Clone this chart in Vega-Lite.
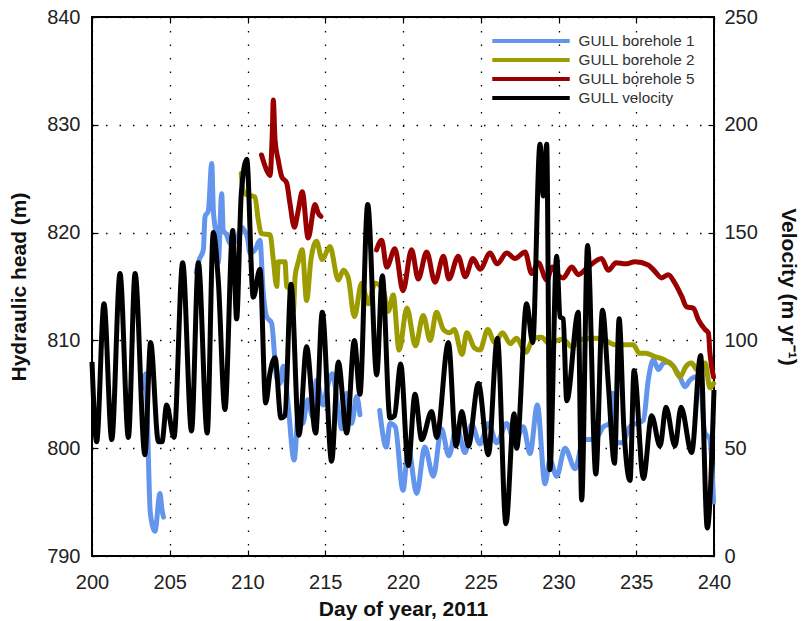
{
  "$schema": "https://vega.github.io/schema/vega-lite/v6.json",
  "width": 622,
  "height": 539,
  "autosize": {"type": "none"},
  "padding": {"left": 92, "top": 17, "right": 90, "bottom": 65},
  "background": "white",
  "config": {
    "font": "Liberation Sans",
    "view": {"stroke": "#000", "strokeWidth": 2},
    "axis": {
      "domain": false,
      "labelFont": "Liberation Sans",
      "labelFontSize": 20,
      "labelColor": "#222",
      "labelFlush": false,
      "labelOverlap": false,
      "tickColor": "#000",
      "tickWidth": 1.2,
      "tickSize": -6,
      "labelPadding": 16,
      "titleFont": "Liberation Sans",
      "titleFontWeight": "bold",
      "titleFontSize": 21,
      "titleColor": "#111",
      "gridColor": "#000",
      "gridWidth": 1.3,
      "gridDash": [1.5, 12],
      "gridOpacity": 1
    },
    "legend": {
      "labelFont": "Liberation Sans",
      "labelFontSize": 15.3,
      "labelColor": "#333"
    }
  },
  "datasets": {
    "heads": [
      {"s": "GULL borehole 1", "g": 1, "d": 203.3, "h": 805.6},
      {"s": "GULL borehole 1", "g": 1, "d": 203.45, "h": 806.9},
      {"s": "GULL borehole 1", "g": 1, "d": 203.55, "h": 803.2},
      {"s": "GULL borehole 1", "g": 1, "d": 203.75, "h": 794.0},
      {"s": "GULL borehole 1", "g": 1, "d": 204.05, "h": 792.3},
      {"s": "GULL borehole 1", "g": 1, "d": 204.37, "h": 795.8},
      {"s": "GULL borehole 1", "g": 1, "d": 204.5, "h": 794.3},
      {"s": "GULL borehole 1", "g": 1, "d": 204.6, "h": 793.6},
      {"s": "GULL borehole 1", "g": 2, "d": 206.7, "h": 816.3},
      {"s": "GULL borehole 1", "g": 2, "d": 206.9, "h": 817.5},
      {"s": "GULL borehole 1", "g": 2, "d": 207.16, "h": 818.4},
      {"s": "GULL borehole 1", "g": 2, "d": 207.27, "h": 821.5},
      {"s": "GULL borehole 1", "g": 2, "d": 207.48, "h": 822.0},
      {"s": "GULL borehole 1", "g": 2, "d": 207.7, "h": 826.4},
      {"s": "GULL borehole 1", "g": 2, "d": 207.8, "h": 822.2},
      {"s": "GULL borehole 1", "g": 2, "d": 207.97, "h": 819.9},
      {"s": "GULL borehole 1", "g": 2, "d": 208.12, "h": 817.2},
      {"s": "GULL borehole 1", "g": 2, "d": 208.34, "h": 823.6},
      {"s": "GULL borehole 1", "g": 2, "d": 208.44, "h": 820.2},
      {"s": "GULL borehole 1", "g": 2, "d": 208.66, "h": 819.8},
      {"s": "GULL borehole 1", "g": 2, "d": 208.87, "h": 819.0},
      {"s": "GULL borehole 1", "g": 2, "d": 209.3, "h": 819.3},
      {"s": "GULL borehole 1", "g": 2, "d": 209.6, "h": 820.5},
      {"s": "GULL borehole 1", "g": 2, "d": 209.8, "h": 820.2},
      {"s": "GULL borehole 1", "g": 2, "d": 210.0, "h": 819.5},
      {"s": "GULL borehole 1", "g": 2, "d": 210.16, "h": 818.1},
      {"s": "GULL borehole 1", "g": 2, "d": 210.48, "h": 818.4},
      {"s": "GULL borehole 1", "g": 2, "d": 210.8, "h": 819.3},
      {"s": "GULL borehole 1", "g": 2, "d": 211.0, "h": 814.7},
      {"s": "GULL borehole 1", "g": 2, "d": 211.23, "h": 812.2},
      {"s": "GULL borehole 1", "g": 2, "d": 211.55, "h": 811.6},
      {"s": "GULL borehole 1", "g": 2, "d": 211.87, "h": 806.6},
      {"s": "GULL borehole 1", "g": 2, "d": 212.08, "h": 806.0},
      {"s": "GULL borehole 1", "g": 2, "d": 212.3, "h": 807.6},
      {"s": "GULL borehole 1", "g": 2, "d": 212.6, "h": 804.2},
      {"s": "GULL borehole 1", "g": 2, "d": 213.0, "h": 798.9},
      {"s": "GULL borehole 1", "g": 2, "d": 213.3, "h": 803.8},
      {"s": "GULL borehole 1", "g": 2, "d": 213.55, "h": 802.3},
      {"s": "GULL borehole 1", "g": 2, "d": 213.87, "h": 804.5},
      {"s": "GULL borehole 1", "g": 2, "d": 214.2, "h": 802.9},
      {"s": "GULL borehole 1", "g": 2, "d": 214.44, "h": 806.3},
      {"s": "GULL borehole 1", "g": 2, "d": 214.86, "h": 804.0},
      {"s": "GULL borehole 1", "g": 2, "d": 215.08, "h": 805.4},
      {"s": "GULL borehole 1", "g": 2, "d": 215.46, "h": 806.9},
      {"s": "GULL borehole 1", "g": 2, "d": 215.84, "h": 803.5},
      {"s": "GULL borehole 1", "g": 2, "d": 216.05, "h": 801.8},
      {"s": "GULL borehole 1", "g": 2, "d": 216.38, "h": 805.1},
      {"s": "GULL borehole 1", "g": 2, "d": 216.7, "h": 802.3},
      {"s": "GULL borehole 1", "g": 2, "d": 217.02, "h": 804.8},
      {"s": "GULL borehole 1", "g": 2, "d": 217.23, "h": 803.1},
      {"s": "GULL borehole 1", "g": 3, "d": 218.5, "h": 803.5},
      {"s": "GULL borehole 1", "g": 3, "d": 218.93, "h": 800.1},
      {"s": "GULL borehole 1", "g": 3, "d": 219.16, "h": 802.3},
      {"s": "GULL borehole 1", "g": 3, "d": 219.5, "h": 802.0},
      {"s": "GULL borehole 1", "g": 3, "d": 220.0, "h": 796.1},
      {"s": "GULL borehole 1", "g": 3, "d": 220.34, "h": 800.0},
      {"s": "GULL borehole 1", "g": 3, "d": 220.88, "h": 795.8},
      {"s": "GULL borehole 1", "g": 3, "d": 221.4, "h": 800.1},
      {"s": "GULL borehole 1", "g": 3, "d": 221.95, "h": 797.4},
      {"s": "GULL borehole 1", "g": 3, "d": 222.47, "h": 801.8},
      {"s": "GULL borehole 1", "g": 3, "d": 222.95, "h": 799.3},
      {"s": "GULL borehole 1", "g": 3, "d": 223.45, "h": 802.0},
      {"s": "GULL borehole 1", "g": 3, "d": 223.99, "h": 799.6},
      {"s": "GULL borehole 1", "g": 3, "d": 224.41, "h": 802.2},
      {"s": "GULL borehole 1", "g": 3, "d": 224.95, "h": 800.4},
      {"s": "GULL borehole 1", "g": 3, "d": 225.49, "h": 802.3},
      {"s": "GULL borehole 1", "g": 3, "d": 226.03, "h": 800.5},
      {"s": "GULL borehole 1", "g": 3, "d": 226.67, "h": 802.3},
      {"s": "GULL borehole 1", "g": 3, "d": 227.2, "h": 800.5},
      {"s": "GULL borehole 1", "g": 3, "d": 227.74, "h": 802.0},
      {"s": "GULL borehole 1", "g": 3, "d": 228.17, "h": 799.5},
      {"s": "GULL borehole 1", "g": 3, "d": 228.64, "h": 804.0},
      {"s": "GULL borehole 1", "g": 3, "d": 229.13, "h": 796.7},
      {"s": "GULL borehole 1", "g": 3, "d": 229.45, "h": 798.9},
      {"s": "GULL borehole 1", "g": 3, "d": 229.88, "h": 797.4},
      {"s": "GULL borehole 1", "g": 3, "d": 230.42, "h": 800.0},
      {"s": "GULL borehole 1", "g": 3, "d": 231.07, "h": 798.1},
      {"s": "GULL borehole 1", "g": 3, "d": 231.6, "h": 800.8},
      {"s": "GULL borehole 1", "g": 3, "d": 232.35, "h": 800.8},
      {"s": "GULL borehole 1", "g": 3, "d": 232.89, "h": 802.0},
      {"s": "GULL borehole 1", "g": 3, "d": 233.3, "h": 802.3},
      {"s": "GULL borehole 1", "g": 3, "d": 233.5, "h": 805.1},
      {"s": "GULL borehole 1", "g": 3, "d": 233.7, "h": 800.5},
      {"s": "GULL borehole 1", "g": 3, "d": 234.1, "h": 800.5},
      {"s": "GULL borehole 1", "g": 3, "d": 234.6, "h": 802.0},
      {"s": "GULL borehole 1", "g": 3, "d": 235.46, "h": 802.6},
      {"s": "GULL borehole 1", "g": 3, "d": 235.77, "h": 806.3},
      {"s": "GULL borehole 1", "g": 3, "d": 236.1, "h": 808.2},
      {"s": "GULL borehole 1", "g": 3, "d": 236.42, "h": 807.3},
      {"s": "GULL borehole 1", "g": 3, "d": 236.74, "h": 807.9},
      {"s": "GULL borehole 1", "g": 3, "d": 237.06, "h": 808.0},
      {"s": "GULL borehole 1", "g": 3, "d": 237.4, "h": 807.6},
      {"s": "GULL borehole 1", "g": 3, "d": 237.81, "h": 806.6},
      {"s": "GULL borehole 1", "g": 3, "d": 238.13, "h": 805.7},
      {"s": "GULL borehole 1", "g": 3, "d": 238.45, "h": 806.3},
      {"s": "GULL borehole 1", "g": 3, "d": 238.78, "h": 806.6},
      {"s": "GULL borehole 1", "g": 3, "d": 239.1, "h": 806.3},
      {"s": "GULL borehole 1", "g": 3, "d": 239.4, "h": 801.5},
      {"s": "GULL borehole 1", "g": 3, "d": 239.74, "h": 800.8},
      {"s": "GULL borehole 1", "g": 3, "d": 239.97, "h": 795.0},

      {"s": "GULL borehole 2", "g": 1, "d": 209.6, "h": 825.5},
      {"s": "GULL borehole 2", "g": 1, "d": 209.7, "h": 824.0},
      {"s": "GULL borehole 2", "g": 1, "d": 209.85, "h": 823.6},
      {"s": "GULL borehole 2", "g": 1, "d": 210.48, "h": 823.3},
      {"s": "GULL borehole 2", "g": 1, "d": 210.69, "h": 821.2},
      {"s": "GULL borehole 2", "g": 1, "d": 210.9, "h": 819.9},
      {"s": "GULL borehole 2", "g": 1, "d": 211.45, "h": 819.8},
      {"s": "GULL borehole 2", "g": 1, "d": 211.66, "h": 817.5},
      {"s": "GULL borehole 2", "g": 1, "d": 211.88, "h": 815.0},
      {"s": "GULL borehole 2", "g": 1, "d": 211.98, "h": 817.3},
      {"s": "GULL borehole 2", "g": 1, "d": 212.41, "h": 817.3},
      {"s": "GULL borehole 2", "g": 1, "d": 212.52, "h": 815.0},
      {"s": "GULL borehole 2", "g": 1, "d": 212.7, "h": 814.8},
      {"s": "GULL borehole 2", "g": 1, "d": 212.95, "h": 812.7},
      {"s": "GULL borehole 2", "g": 1, "d": 213.06, "h": 815.9},
      {"s": "GULL borehole 2", "g": 1, "d": 213.27, "h": 817.3},
      {"s": "GULL borehole 2", "g": 1, "d": 213.52, "h": 818.4},
      {"s": "GULL borehole 2", "g": 1, "d": 213.8, "h": 813.7},
      {"s": "GULL borehole 2", "g": 1, "d": 214.08, "h": 817.5},
      {"s": "GULL borehole 2", "g": 1, "d": 214.44, "h": 819.2},
      {"s": "GULL borehole 2", "g": 1, "d": 214.8, "h": 817.5},
      {"s": "GULL borehole 2", "g": 1, "d": 215.3, "h": 818.7},
      {"s": "GULL borehole 2", "g": 1, "d": 215.84, "h": 815.6},
      {"s": "GULL borehole 2", "g": 1, "d": 216.16, "h": 816.5},
      {"s": "GULL borehole 2", "g": 1, "d": 216.48, "h": 815.8},
      {"s": "GULL borehole 2", "g": 1, "d": 216.87, "h": 812.2},
      {"s": "GULL borehole 2", "g": 1, "d": 217.34, "h": 815.3},
      {"s": "GULL borehole 2", "g": 1, "d": 217.77, "h": 813.4},
      {"s": "GULL borehole 2", "g": 1, "d": 218.2, "h": 815.3},
      {"s": "GULL borehole 2", "g": 1, "d": 218.73, "h": 814.7},
      {"s": "GULL borehole 2", "g": 1, "d": 219.05, "h": 812.7},
      {"s": "GULL borehole 2", "g": 1, "d": 219.37, "h": 814.2},
      {"s": "GULL borehole 2", "g": 1, "d": 219.75, "h": 809.1},
      {"s": "GULL borehole 2", "g": 1, "d": 220.25, "h": 813.0},
      {"s": "GULL borehole 2", "g": 1, "d": 220.8, "h": 809.5},
      {"s": "GULL borehole 2", "g": 1, "d": 221.3, "h": 812.3},
      {"s": "GULL borehole 2", "g": 1, "d": 221.75, "h": 810.0},
      {"s": "GULL borehole 2", "g": 1, "d": 222.15, "h": 812.6},
      {"s": "GULL borehole 2", "g": 1, "d": 222.6, "h": 811.0},
      {"s": "GULL borehole 2", "g": 1, "d": 223.0, "h": 810.7},
      {"s": "GULL borehole 2", "g": 1, "d": 223.3, "h": 811.0},
      {"s": "GULL borehole 2", "g": 1, "d": 223.8, "h": 808.7},
      {"s": "GULL borehole 2", "g": 1, "d": 224.1, "h": 810.7},
      {"s": "GULL borehole 2", "g": 1, "d": 224.6, "h": 809.3},
      {"s": "GULL borehole 2", "g": 1, "d": 224.95, "h": 809.1},
      {"s": "GULL borehole 2", "g": 1, "d": 225.45, "h": 811.0},
      {"s": "GULL borehole 2", "g": 1, "d": 225.9, "h": 809.8},
      {"s": "GULL borehole 2", "g": 1, "d": 226.4, "h": 810.7},
      {"s": "GULL borehole 2", "g": 1, "d": 226.9, "h": 809.7},
      {"s": "GULL borehole 2", "g": 1, "d": 227.3, "h": 810.2},
      {"s": "GULL borehole 2", "g": 1, "d": 227.9, "h": 808.9},
      {"s": "GULL borehole 2", "g": 1, "d": 228.4, "h": 810.2},
      {"s": "GULL borehole 2", "g": 1, "d": 228.9, "h": 810.3},
      {"s": "GULL borehole 2", "g": 1, "d": 229.4, "h": 809.7},
      {"s": "GULL borehole 2", "g": 1, "d": 229.9, "h": 810.0},
      {"s": "GULL borehole 2", "g": 1, "d": 230.3, "h": 810.1},
      {"s": "GULL borehole 2", "g": 1, "d": 230.85, "h": 809.4},
      {"s": "GULL borehole 2", "g": 1, "d": 231.5, "h": 810.1},
      {"s": "GULL borehole 2", "g": 1, "d": 232.4, "h": 810.2},
      {"s": "GULL borehole 2", "g": 1, "d": 233.0, "h": 810.0},
      {"s": "GULL borehole 2", "g": 1, "d": 233.63, "h": 809.6},
      {"s": "GULL borehole 2", "g": 1, "d": 234.3, "h": 809.6},
      {"s": "GULL borehole 2", "g": 1, "d": 234.81, "h": 809.6},
      {"s": "GULL borehole 2", "g": 1, "d": 235.2, "h": 808.8},
      {"s": "GULL borehole 2", "g": 1, "d": 235.6, "h": 808.8},
      {"s": "GULL borehole 2", "g": 1, "d": 236.2, "h": 808.5},
      {"s": "GULL borehole 2", "g": 1, "d": 236.8, "h": 808.2},
      {"s": "GULL borehole 2", "g": 1, "d": 237.38, "h": 807.6},
      {"s": "GULL borehole 2", "g": 1, "d": 237.81, "h": 806.6},
      {"s": "GULL borehole 2", "g": 1, "d": 238.2, "h": 807.6},
      {"s": "GULL borehole 2", "g": 1, "d": 238.56, "h": 807.9},
      {"s": "GULL borehole 2", "g": 1, "d": 238.9, "h": 807.3},
      {"s": "GULL borehole 2", "g": 1, "d": 239.43, "h": 807.9},
      {"s": "GULL borehole 2", "g": 1, "d": 239.74, "h": 805.6},
      {"s": "GULL borehole 2", "g": 1, "d": 239.97, "h": 806.0},

      {"s": "GULL borehole 5", "g": 1, "d": 210.9, "h": 827.2},
      {"s": "GULL borehole 5", "g": 1, "d": 211.23, "h": 825.8},
      {"s": "GULL borehole 5", "g": 1, "d": 211.45, "h": 825.3},
      {"s": "GULL borehole 5", "g": 1, "d": 211.6, "h": 829.5},
      {"s": "GULL borehole 5", "g": 1, "d": 211.66, "h": 832.3},
      {"s": "GULL borehole 5", "g": 1, "d": 211.77, "h": 828.6},
      {"s": "GULL borehole 5", "g": 1, "d": 211.98, "h": 826.7},
      {"s": "GULL borehole 5", "g": 1, "d": 212.2, "h": 825.2},
      {"s": "GULL borehole 5", "g": 1, "d": 212.52, "h": 824.6},
      {"s": "GULL borehole 5", "g": 1, "d": 212.73, "h": 822.7},
      {"s": "GULL borehole 5", "g": 1, "d": 213.01, "h": 820.5},
      {"s": "GULL borehole 5", "g": 1, "d": 213.27, "h": 822.1},
      {"s": "GULL borehole 5", "g": 1, "d": 213.52, "h": 823.8},
      {"s": "GULL borehole 5", "g": 1, "d": 213.9, "h": 819.5},
      {"s": "GULL borehole 5", "g": 1, "d": 214.34, "h": 822.6},
      {"s": "GULL borehole 5", "g": 1, "d": 214.55, "h": 821.8},
      {"s": "GULL borehole 5", "g": 1, "d": 214.73, "h": 821.5},
      {"s": "GULL borehole 5", "g": 2, "d": 218.3, "h": 818.4},
      {"s": "GULL borehole 5", "g": 2, "d": 218.63, "h": 819.3},
      {"s": "GULL borehole 5", "g": 2, "d": 218.95, "h": 816.8},
      {"s": "GULL borehole 5", "g": 2, "d": 219.48, "h": 818.5},
      {"s": "GULL borehole 5", "g": 2, "d": 220.0, "h": 814.6},
      {"s": "GULL borehole 5", "g": 2, "d": 220.55, "h": 818.4},
      {"s": "GULL borehole 5", "g": 2, "d": 220.98, "h": 815.7},
      {"s": "GULL borehole 5", "g": 2, "d": 221.52, "h": 818.2},
      {"s": "GULL borehole 5", "g": 2, "d": 222.06, "h": 815.4},
      {"s": "GULL borehole 5", "g": 2, "d": 222.6, "h": 817.8},
      {"s": "GULL borehole 5", "g": 2, "d": 222.95, "h": 815.7},
      {"s": "GULL borehole 5", "g": 2, "d": 223.55, "h": 817.8},
      {"s": "GULL borehole 5", "g": 2, "d": 224.0, "h": 815.9},
      {"s": "GULL borehole 5", "g": 2, "d": 224.5, "h": 817.6},
      {"s": "GULL borehole 5", "g": 2, "d": 224.95, "h": 816.6},
      {"s": "GULL borehole 5", "g": 2, "d": 225.6, "h": 818.1},
      {"s": "GULL borehole 5", "g": 2, "d": 226.05, "h": 817.1},
      {"s": "GULL borehole 5", "g": 2, "d": 226.67, "h": 818.1},
      {"s": "GULL borehole 5", "g": 2, "d": 227.2, "h": 817.6},
      {"s": "GULL borehole 5", "g": 2, "d": 227.85, "h": 818.2},
      {"s": "GULL borehole 5", "g": 2, "d": 228.27, "h": 816.2},
      {"s": "GULL borehole 5", "g": 2, "d": 228.7, "h": 817.2},
      {"s": "GULL borehole 5", "g": 2, "d": 229.24, "h": 815.6},
      {"s": "GULL borehole 5", "g": 2, "d": 229.6, "h": 816.8},
      {"s": "GULL borehole 5", "g": 2, "d": 229.88, "h": 816.2},
      {"s": "GULL borehole 5", "g": 2, "d": 230.3, "h": 815.8},
      {"s": "GULL borehole 5", "g": 2, "d": 230.85, "h": 816.8},
      {"s": "GULL borehole 5", "g": 2, "d": 231.27, "h": 816.1},
      {"s": "GULL borehole 5", "g": 2, "d": 231.9, "h": 816.8},
      {"s": "GULL borehole 5", "g": 2, "d": 232.77, "h": 817.6},
      {"s": "GULL borehole 5", "g": 2, "d": 233.2, "h": 816.5},
      {"s": "GULL borehole 5", "g": 2, "d": 233.7, "h": 817.2},
      {"s": "GULL borehole 5", "g": 2, "d": 234.3, "h": 817.1},
      {"s": "GULL borehole 5", "g": 2, "d": 234.92, "h": 817.3},
      {"s": "GULL borehole 5", "g": 2, "d": 235.77, "h": 817.0},
      {"s": "GULL borehole 5", "g": 2, "d": 236.2, "h": 816.4},
      {"s": "GULL borehole 5", "g": 2, "d": 236.63, "h": 815.8},
      {"s": "GULL borehole 5", "g": 2, "d": 237.06, "h": 816.1},
      {"s": "GULL borehole 5", "g": 2, "d": 237.49, "h": 815.3},
      {"s": "GULL borehole 5", "g": 2, "d": 237.92, "h": 814.1},
      {"s": "GULL borehole 5", "g": 2, "d": 238.24, "h": 813.1},
      {"s": "GULL borehole 5", "g": 2, "d": 238.67, "h": 813.0},
      {"s": "GULL borehole 5", "g": 2, "d": 239.0, "h": 811.9},
      {"s": "GULL borehole 5", "g": 2, "d": 239.43, "h": 811.0},
      {"s": "GULL borehole 5", "g": 2, "d": 239.64, "h": 810.7},
      {"s": "GULL borehole 5", "g": 2, "d": 239.74, "h": 808.8},
      {"s": "GULL borehole 5", "g": 2, "d": 239.97, "h": 806.6}
    ],
    "velocity": [
      {"d": 200.0, "v": 90}, {"d": 200.3, "v": 53}, {"d": 200.77, "v": 117},
      {"d": 201.27, "v": 54}, {"d": 201.8, "v": 131}, {"d": 202.34, "v": 55},
      {"d": 202.77, "v": 131}, {"d": 203.4, "v": 47}, {"d": 203.77, "v": 99},
      {"d": 204.27, "v": 53}, {"d": 204.5, "v": 53}, {"d": 204.8, "v": 70},
      {"d": 205.27, "v": 55}, {"d": 205.83, "v": 136}, {"d": 206.4, "v": 58},
      {"d": 206.84, "v": 136}, {"d": 207.41, "v": 57}, {"d": 207.8, "v": 150},
      {"d": 208.12, "v": 128}, {"d": 208.55, "v": 68}, {"d": 209.05, "v": 151},
      {"d": 209.3, "v": 110}, {"d": 209.6, "v": 168}, {"d": 209.95, "v": 184},
      {"d": 210.37, "v": 120}, {"d": 210.8, "v": 133}, {"d": 211.17, "v": 71},
      {"d": 211.45, "v": 85}, {"d": 211.77, "v": 92}, {"d": 212.15, "v": 64},
      {"d": 212.4, "v": 65}, {"d": 212.8, "v": 126}, {"d": 213.31, "v": 56},
      {"d": 213.8, "v": 97}, {"d": 214.38, "v": 57}, {"d": 214.81, "v": 113},
      {"d": 215.41, "v": 44}, {"d": 215.84, "v": 90}, {"d": 216.38, "v": 57},
      {"d": 216.87, "v": 100}, {"d": 217.23, "v": 75}, {"d": 217.73, "v": 163},
      {"d": 218.31, "v": 84}, {"d": 218.67, "v": 130}, {"d": 219.16, "v": 64},
      {"d": 219.45, "v": 65}, {"d": 219.85, "v": 89}, {"d": 220.34, "v": 42},
      {"d": 220.77, "v": 75}, {"d": 221.2, "v": 54}, {"d": 221.84, "v": 67},
      {"d": 222.17, "v": 55}, {"d": 222.92, "v": 99}, {"d": 223.41, "v": 51},
      {"d": 223.78, "v": 67}, {"d": 224.2, "v": 51}, {"d": 224.85, "v": 80},
      {"d": 225.49, "v": 47}, {"d": 226.07, "v": 101}, {"d": 226.62, "v": 15},
      {"d": 227.14, "v": 66}, {"d": 227.31, "v": 50}, {"d": 227.95, "v": 117},
      {"d": 228.34, "v": 99}, {"d": 228.81, "v": 191}, {"d": 229.02, "v": 167},
      {"d": 229.24, "v": 191}, {"d": 229.45, "v": 40}, {"d": 229.88, "v": 139},
      {"d": 230.1, "v": 111}, {"d": 230.3, "v": 110}, {"d": 230.53, "v": 72},
      {"d": 231.27, "v": 113}, {"d": 231.49, "v": 26}, {"d": 231.87, "v": 144},
      {"d": 232.4, "v": 38}, {"d": 232.83, "v": 114}, {"d": 233.2, "v": 80},
      {"d": 233.6, "v": 43}, {"d": 233.9, "v": 110}, {"d": 234.2, "v": 60},
      {"d": 234.6, "v": 35}, {"d": 234.86, "v": 86}, {"d": 235.46, "v": 36},
      {"d": 235.99, "v": 65}, {"d": 236.53, "v": 51}, {"d": 236.91, "v": 69},
      {"d": 237.49, "v": 51}, {"d": 237.88, "v": 69}, {"d": 238.56, "v": 48},
      {"d": 239.14, "v": 93}, {"d": 239.57, "v": 13}, {"d": 240.0, "v": 77}
    ]
  },
  "layer": [
    {
      "data": {"name": "heads"},
      "mark": {"type": "line", "strokeWidth": 5, "interpolate": "monotone", "strokeJoin": "round", "strokeCap": "round"},
      "encoding": {
        "x": {
          "field": "d", "type": "quantitative",
          "scale": {"domain": [200, 240], "nice": false, "zero": false},
          "axis": {"orient": "bottom", "values": [200, 205, 210, 215, 220, 225, 230, 235, 240], "title": "Day of year, 2011", "grid": true, "labelPadding": 22, "titlePadding": 6}
        },
        "y": {
          "field": "h", "type": "quantitative",
          "scale": {"domain": [790, 840], "nice": false, "zero": false},
          "axis": {"values": [790, 800, 810, 820, 830, 840], "title": "Hydraulic head (m)", "grid": true, "labelPadding": 18, "titlePadding": 17}
        },
        "color": {
          "field": "s", "type": "nominal",
          "scale": {
            "domain": ["GULL borehole 1", "GULL borehole 2", "GULL borehole 5", "GULL velocity"],
            "range": ["#6495ED", "#9C9C00", "#990000", "#000000"]
          },
          "legend": {
            "title": null,
            "orient": "none",
            "legendX": 429,
            "legendY": 14,
            "symbolType": "M-5,0H5",
            "symbolSize": 240,
            "symbolStrokeWidth": 4,
            "labelOffset": 37.5,
            "rowPadding": 0,
            "padding": 0
          }
        },
        "detail": {"field": "g"},
        "order": {"field": "d"}
      }
    },
    {
      "data": {"name": "velocity"},
      "mark": {"type": "line", "strokeWidth": 5, "interpolate": "monotone", "strokeJoin": "round"},
      "encoding": {
        "x": {
          "field": "d", "type": "quantitative",
          "scale": {"domain": [200, 240], "nice": false, "zero": false},
          "axis": {"orient": "top", "values": [200, 205, 210, 215, 220, 225, 230, 235, 240], "labels": false, "title": null, "grid": false}
        },
        "y": {
          "field": "v", "type": "quantitative",
          "scale": {"domain": [0, 250], "nice": false, "zero": false},
          "axis": {"orient": "right", "values": [0, 50, 100, 150, 200, 250], "title": "Velocity (m yr⁻¹)", "grid": false, "titlePadding": 20}
        },
        "color": {"datum": "GULL velocity"}
      }
    }
  ],
  "resolve": {"scale": {"y": "independent"}, "axis": {"x": "independent"}}
}
